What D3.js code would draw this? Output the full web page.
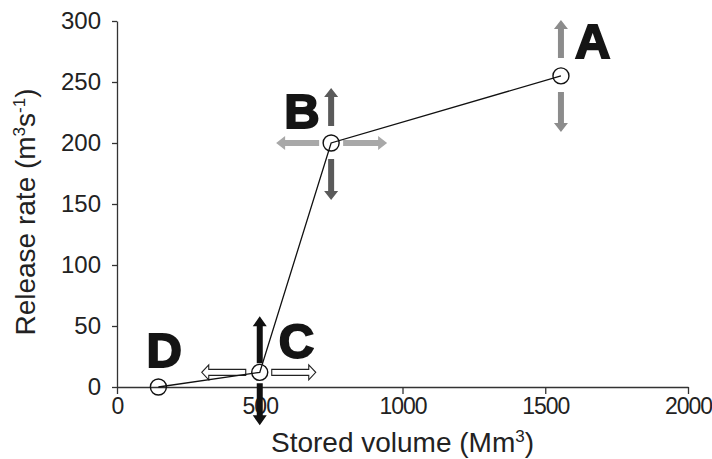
<!DOCTYPE html>
<html>
<head>
<meta charset="utf-8">
<script src="https://cdn.jsdelivr.net/npm/d3@7"></script>
<style>
  body { margin: 0; background: #fff; }
  text { font-family: "Liberation Sans", Arial, sans-serif; }
  .axis path, .axis line { stroke: #333; stroke-width: 1.3; }
  .axis text { font-size: 24px; fill: #222; }
  .axis--x text { font-size: 23px; letter-spacing: -1px; }
  .axis-label { font-size: 28px; fill: #222; }
  .pt-label { font-size: 49px; font-weight: bold; fill: #151515; stroke: #151515; stroke-width: 2; }
</style>
</head>
<body>
<svg id="chart" width="712" height="459"></svg>
<script>
// Data
const pointNames = ["D", "C", "B", "A"];
const storedVolume = [145, 500, 750, 1555];   // Mm3
const releaseRate = [0, 12, 200, 255];        // m3/s
const xTicks = [0, 500, 1000, 1500, 2000];
const yTicks = [0, 50, 100, 150, 200, 250, 300];

const svg = d3.select("#chart"),
    margin = { top: 21, right: 24, bottom: 72, left: 117 },
    width = +svg.attr("width") - margin.left - margin.right,
    height = +svg.attr("height") - margin.top - margin.bottom,
    g = svg.append("g").attr("transform", `translate(${margin.left},${margin.top})`);

const x = d3.scaleLinear().domain([0, 2000]).range([0, width]);
const y = d3.scaleLinear().domain([0, 300]).range([height, 0]);

const points = pointNames.map((name, i) => ({ name, v: storedVolume[i], r: releaseRate[i] }));

// Axes
g.append("g")
    .attr("class", "axis axis--x")
    .attr("transform", `translate(0,${height})`)
    .call(d3.axisBottom(x).tickValues(xTicks).tickFormat(d3.format("d"))
        .tickSize(7).tickSizeOuter(0).tickPadding(4));

g.append("g")
    .attr("class", "axis axis--y")
    .call(d3.axisLeft(y).tickValues(yTicks).tickFormat(d3.format("d"))
        .tickSize(5).tickSizeOuter(0).tickPadding(11));

// Axis titles
const xTitle = svg.append("text")
    .attr("class", "axis-label")
    .attr("x", margin.left + width / 2)
    .attr("y", 452)
    .attr("text-anchor", "middle");
xTitle.append("tspan").text("Stored volume (Mm");
xTitle.append("tspan").attr("dy", -10).attr("font-size", 17).text("3");
xTitle.append("tspan").attr("dy", 10).text(")");

const yTitle = svg.append("text")
    .attr("class", "axis-label")
    .attr("transform", `translate(35,${margin.top + height / 2 + 8}) rotate(-90)`)
    .attr("text-anchor", "middle");
yTitle.append("tspan").text("Release rate (m");
yTitle.append("tspan").attr("dy", -10).attr("font-size", 17).text("3");
yTitle.append("tspan").attr("dy", 10).text("s");
yTitle.append("tspan").attr("dy", -10).attr("font-size", 17).text("-1");
yTitle.append("tspan").attr("dy", 10).text(")");

// Arrow styles and annotation layout (offsets in px from the point)
const arrowStyles = {
    mid:    { fill: "#8c8c8c", stroke: "none", w: 6, hw: 7, hl: 9 },
    dark:   { fill: "#5a5a5a", stroke: "none", w: 6, hw: 7, hl: 9 },
    light:  { fill: "#a8a8a8", stroke: "none", w: 6, hw: 7, hl: 9 },
    black:  { fill: "#111",    stroke: "none", w: 6, hw: 7, hl: 10 },
    hollow: { fill: "#fff",    stroke: "#222", w: 6, hw: 7.5, hl: 7 }
};
const dirs = { up: [0, -1, -90], down: [0, 1, 90], left: [-1, 0, 180], right: [1, 0, 0] };

const arrows = [
    { pt: "A", dir: "up", gap: 18, len: 38, style: "mid" },
    { pt: "A", dir: "down", gap: 16, len: 40, style: "mid" },
    { pt: "B", dir: "up", gap: 17, len: 38, style: "dark" },
    { pt: "B", dir: "down", gap: 16, len: 41, style: "dark" },
    { pt: "B", dir: "left", gap: 12, len: 43, style: "light" },
    { pt: "B", dir: "right", gap: 12, len: 44, style: "light" },
    { pt: "C", dir: "up", gap: 9, len: 47, style: "black" },
    { pt: "C", dir: "down", gap: 11, len: 42, style: "black" },
    { pt: "C", dir: "left", gap: 14, len: 44, style: "hollow" },
    { pt: "C", dir: "right", gap: 12, len: 44, style: "hollow" }
];

const labelOffsets = { A: [14, -18], B: [-47, -15], C: [19, -14], D: [-12, -20] };

const byName = {};
points.forEach(p => byName[p.name] = p);

const arrowPath = (len, s) => {
    const b = len - s.hl;
    return `M0,${-s.w / 2}L${b},${-s.w / 2}L${b},${-s.hw}L${len},0L${b},${s.hw}L${b},${s.w / 2}L0,${s.w / 2}Z`;
};

g.selectAll(".arrow")
    .data(arrows)
    .enter().append("path")
    .attr("class", "arrow")
    .attr("d", d => arrowPath(d.len, arrowStyles[d.style]))
    .attr("transform", d => {
        const p = byName[d.pt], v = dirs[d.dir];
        return `translate(${x(p.v) + v[0] * d.gap},${y(p.r) + v[1] * d.gap}) rotate(${v[2]})`;
    })
    .style("fill", d => arrowStyles[d.style].fill)
    .style("stroke", d => arrowStyles[d.style].stroke)
    .style("stroke-width", 1.1);

// Line
const line = d3.line().x(d => x(d.v)).y(d => y(d.r));
g.append("path")
    .datum(points)
    .attr("d", line)
    .style("fill", "none")
    .style("stroke", "#111")
    .style("stroke-width", 1.3);

g.selectAll(".pt")
    .data(points)
    .enter().append("circle")
    .attr("class", "pt")
    .attr("cx", d => x(d.v))
    .attr("cy", d => y(d.r))
    .attr("r", 8)
    .style("fill", "none")
    .style("stroke", "#111")
    .style("stroke-width", 1.4);

// Point letters
g.selectAll(".pt-label")
    .data(points)
    .enter().append("text")
    .attr("class", "pt-label")
    .attr("x", d => x(d.v) + labelOffsets[d.name][0])
    .attr("y", d => y(d.r) + labelOffsets[d.name][1])
    .text(d => d.name);
</script>
</body>
</html>
